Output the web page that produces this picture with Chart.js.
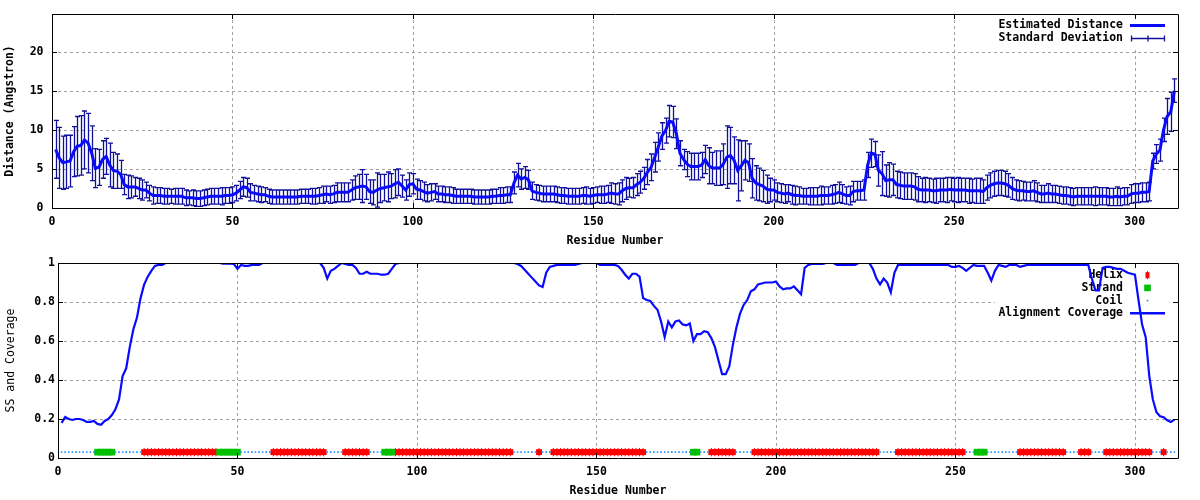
<!DOCTYPE html>
<html><head><meta charset="utf-8">
<script src="https://cdn.jsdelivr.net/npm/chart.js@4/dist/chart.umd.min.js"></script>
<style>
html,body{margin:0;padding:0;background:#fff;}
#wrap{position:relative;width:1200px;height:500px;overflow:hidden;}
canvas{position:absolute;left:0;}
</style></head><body>
<div id="wrap">
<canvas id="c1" width="1200" height="250" style="top:0"></canvas>
<canvas id="c2" width="1200" height="250" style="top:250px"></canvas>
</div>
<script>
// ---------------- DATA ----------------
// Estimated distance (Angstrom) per residue 1..311
const distance = [
7.5,6.4,5.8,5.9,6.0,7.2,7.9,8.0,8.7,8.3,
7.0,5.1,5.2,6.2,6.6,5.5,4.8,4.7,4.3,3.0,
2.7,2.7,2.7,2.5,2.3,2.3,1.9,1.6,1.6,1.6,
1.5,1.5,1.5,1.5,1.5,1.5,1.3,1.3,1.3,1.2,
1.2,1.3,1.4,1.5,1.5,1.5,1.5,1.6,1.6,1.7,
1.9,2.3,2.7,2.6,2.0,1.9,1.8,1.7,1.7,1.5,
1.4,1.4,1.4,1.4,1.4,1.4,1.4,1.4,1.5,1.5,
1.5,1.5,1.5,1.6,1.7,1.8,1.7,1.8,2.0,2.0,
2.0,2.0,2.3,2.6,2.7,2.8,2.7,2.1,2.0,2.3,
2.5,2.6,2.7,2.8,3.1,3.3,2.8,2.3,3.0,3.1,
2.4,2.3,2.1,1.9,2.0,2.1,1.8,1.8,1.7,1.7,
1.6,1.5,1.5,1.5,1.5,1.5,1.4,1.4,1.4,1.4,
1.4,1.5,1.5,1.6,1.6,1.7,1.7,3.2,4.2,3.7,
3.9,3.6,2.2,2.0,1.9,1.8,1.8,1.8,1.8,1.7,
1.6,1.6,1.5,1.5,1.5,1.5,1.6,1.6,1.5,1.6,
1.7,1.7,1.7,1.8,1.9,1.8,1.8,2.2,2.5,2.6,
2.6,3.0,3.3,3.8,4.6,5.2,6.5,7.8,9.2,9.9,
11.1,11.0,9.5,7.0,6.2,5.6,5.3,5.3,5.3,5.5,
6.2,5.4,5.1,5.1,5.1,5.6,6.5,6.7,6.1,4.8,
5.4,6.1,5.8,3.8,3.2,3.0,2.8,2.4,2.3,2.3,
2.0,1.9,1.8,1.9,1.7,1.6,1.6,1.5,1.5,1.5,
1.5,1.5,1.6,1.6,1.6,1.7,1.8,2.0,1.8,1.6,
1.6,2.1,2.2,2.2,2.3,5.5,7.0,6.9,4.8,4.4,
3.5,3.6,3.6,3.0,2.9,2.8,2.8,2.8,2.7,2.4,
2.3,2.3,2.3,2.2,2.2,2.3,2.3,2.3,2.4,2.3,
2.3,2.3,2.3,2.2,2.2,2.2,2.2,2.1,2.6,2.9,
3.1,3.2,3.2,3.1,2.9,2.5,2.3,2.2,2.2,2.1,
2.1,2.2,2.0,1.8,1.8,1.9,1.8,1.8,1.7,1.6,
1.6,1.5,1.4,1.5,1.5,1.5,1.5,1.5,1.5,1.5,
1.5,1.5,1.4,1.4,1.5,1.4,1.5,1.5,1.8,1.9,
1.9,2.0,2.0,2.1,6.0,6.9,7.4,10.0,11.7,12.3,15.0
];
// Standard deviation per residue
const stdDev = [
3.7,3.9,3.4,3.4,3.3,3.2,3.8,3.8,3.7,3.8,
3.5,2.5,2.3,2.4,2.3,2.8,2.3,2.2,1.8,1.3,
1.5,1.4,1.2,1.3,1.3,1.0,1.0,1.1,1.0,1.0,
1.0,1.0,0.9,1.0,1.0,1.0,1.0,0.9,1.0,1.0,
1.0,1.0,1.0,1.0,1.0,1.0,1.1,1.0,1.0,1.0,
1.0,1.1,1.2,1.2,1.1,1.0,1.0,1.0,0.9,0.9,
0.9,0.9,0.9,0.9,0.9,0.9,0.9,0.9,0.9,0.9,
0.9,1.0,1.0,1.0,1.1,1.0,1.1,1.1,1.2,1.2,
1.2,1.2,1.3,1.5,1.6,2.1,1.6,1.5,1.6,2.2,
1.8,1.7,1.9,1.6,1.8,1.7,1.4,1.3,1.5,1.3,
1.3,1.2,1.2,1.1,1.1,1.0,1.0,1.0,1.0,1.0,
1.0,0.9,0.9,0.9,0.9,0.9,0.9,0.9,0.9,0.9,
0.9,0.9,0.9,1.0,1.0,1.0,1.0,1.4,1.5,1.3,
1.4,1.2,1.1,1.0,1.0,1.0,1.0,1.0,1.0,1.0,
1.0,1.0,1.0,1.0,1.0,1.0,1.0,1.1,1.0,1.0,
1.0,1.1,1.1,1.1,1.3,1.3,1.4,1.4,1.4,1.2,
1.3,1.4,1.4,1.4,1.6,1.7,1.9,1.8,1.7,1.6,
2.0,2.0,1.9,1.6,1.3,1.6,1.7,1.7,1.7,1.6,
1.8,2.3,2.0,2.2,2.2,2.6,4.0,3.6,3.0,3.9,
3.2,2.5,2.4,2.5,2.2,2.1,2.0,1.8,1.5,1.3,
1.2,1.2,1.2,1.1,1.2,1.2,1.1,1.0,1.0,1.1,
1.1,1.1,1.2,1.1,1.1,1.2,1.2,1.3,1.2,1.1,
1.2,1.3,1.2,1.2,1.3,1.6,1.8,1.6,2.0,2.8,
2.0,2.2,2.0,1.7,1.7,1.7,1.7,1.7,1.7,1.6,
1.5,1.6,1.5,1.5,1.6,1.5,1.5,1.6,1.5,1.5,
1.6,1.5,1.5,1.6,1.5,1.6,1.6,1.5,1.6,1.6,
1.6,1.6,1.6,1.6,1.5,1.4,1.3,1.3,1.2,1.2,
1.2,1.3,1.2,1.1,1.1,1.2,1.1,1.1,1.1,1.1,
1.1,1.1,1.1,1.1,1.1,1.1,1.1,1.1,1.2,1.1,
1.1,1.1,1.1,1.1,1.2,1.1,1.1,1.1,1.2,1.2,
1.2,1.2,1.2,1.2,1.0,1.2,1.4,1.5,2.3,2.5,1.5
];
// Alignment coverage per residue
const coverage = [
0.18,0.21,0.20,0.195,0.20,0.20,0.195,0.185,0.185,0.19,
0.175,0.17,0.19,0.20,0.22,0.25,0.30,0.42,0.46,0.57,
0.66,0.72,0.82,0.89,0.93,0.96,0.985,0.99,0.99,1.0,
1.0,1.0,1.0,1.0,1.0,1.0,1.0,1.0,1.0,1.0,
1.0,1.0,1.0,1.0,1.0,0.997,0.997,0.997,0.995,0.97,
0.99,0.985,0.985,0.99,0.99,0.99,1.0,1.0,1.0,1.0,
1.0,1.0,1.0,1.0,1.0,1.0,1.0,1.0,1.0,1.0,
1.0,1.0,1.0,0.975,0.92,0.96,0.97,0.985,1.0,0.995,
0.99,0.99,0.975,0.945,0.945,0.955,0.945,0.945,0.945,0.94,
0.94,0.945,0.97,0.995,1.0,1.0,1.0,1.0,1.0,1.0,
1.0,1.0,1.0,1.0,1.0,1.0,1.0,1.0,1.0,1.0,
1.0,1.0,1.0,1.0,1.0,1.0,1.0,1.0,1.0,1.0,
1.0,1.0,1.0,1.0,1.0,1.0,1.0,0.995,0.985,0.965,
0.945,0.925,0.905,0.885,0.877,0.95,0.98,0.985,0.99,0.99,
0.99,0.99,0.99,0.99,0.995,1.0,1.0,1.0,1.0,1.0,
0.99,0.99,0.99,0.99,0.99,0.985,0.965,0.94,0.92,0.945,
0.945,0.93,0.82,0.81,0.805,0.78,0.76,0.70,0.62,0.70,
0.67,0.70,0.705,0.685,0.68,0.69,0.60,0.635,0.635,0.65,
0.645,0.615,0.57,0.50,0.43,0.43,0.47,0.58,0.67,0.74,
0.785,0.81,0.855,0.865,0.89,0.895,0.90,0.90,0.90,0.905,
0.88,0.865,0.87,0.87,0.88,0.86,0.84,0.975,0.99,0.995,
0.995,0.995,0.995,1.0,1.0,1.0,0.99,0.99,0.99,0.99,
0.99,0.99,1.0,1.0,1.0,1.0,0.97,0.92,0.89,0.92,
0.90,0.85,0.95,0.99,0.99,0.99,0.99,0.99,0.99,0.99,
0.99,0.99,0.99,0.99,0.99,0.99,0.99,0.99,0.98,0.98,
0.985,0.975,0.96,0.975,0.99,0.985,0.985,0.985,0.95,0.91,
0.96,0.99,0.985,0.98,0.99,0.99,0.99,0.98,0.985,0.99,
0.99,0.99,0.99,0.99,0.99,0.99,0.99,0.99,0.99,0.99,
0.99,0.99,0.99,0.99,0.99,0.99,0.99,0.92,0.86,0.86,
0.975,0.98,0.98,0.975,0.97,0.97,0.96,0.95,0.945,0.94,
0.81,0.685,0.62,0.42,0.30,0.235,0.214,0.209,0.193,0.185,0.197
];
// Secondary structure runs: [first residue, last residue, type]; everything else is coil
const ssSegments = [
[11,15,'E'],[24,44,'H'],[45,50,'E'],[60,74,'H'],[80,86,'H'],[91,93,'E'],
[94,126,'H'],[134,134,'H'],[138,163,'H'],[177,178,'E'],[182,188,'H'],
[194,228,'H'],[234,252,'H'],[256,258,'E'],[268,280,'H'],[285,287,'H'],
[292,304,'H'],[308,308,'H']
];
const ssLevel = 0.03;
const residues = distance.map((_, i) => i + 1);
const xTicks = [0, 50, 100, 150, 200, 250, 300];
const yTicksTop = [0, 5, 10, 15, 20];
const yTicksBottom = [0, 0.2, 0.4, 0.6, 0.8, 1];

// ---------------- HELPERS ----------------
const FAM = "'DejaVu Sans Mono','Liberation Mono',monospace";
Chart.defaults.font.family = FAM;
const BOLD = "bold 11.5px " + FAM;
function ssAt(r) { for (const [a, b, t] of ssSegments) if (r >= a && r <= b) return t; return 'C'; }
const ssPoints = t => residues.map(r => ({ x: r, y: ssAt(r) === t ? ssLevel : null }));
const fmt = v => String(Math.round(v * 10) / 10);

function makeFrame(cfg) {
  return {
    id: 'gpframe',
    beforeDatasetsDraw(chart) {
      const { ctx, chartArea: a, scales: { x, y } } = chart;
      ctx.save();
      // dotted grid
      ctx.strokeStyle = '#a0a0a0'; ctx.lineWidth = 1; ctx.setLineDash([3, 3]);
      ctx.beginPath();
      xTicks.forEach(v => { if (v > x.min && v < x.max) { const p = Math.round(x.getPixelForValue(v)) + 0.5; ctx.moveTo(p, a.top); ctx.lineTo(p, a.bottom); } });
      cfg.yTicks.forEach(v => { if (v > y.min && v < y.max) { const p = Math.round(y.getPixelForValue(v)) + 0.5; ctx.moveTo(a.left, p); ctx.lineTo(a.right, p); } });
      ctx.stroke();
      ctx.setLineDash([]);
      // key (cleared box, then entries)
      ctx.fillStyle = '#fff';
      ctx.fillRect(cfg.keyBox[0], cfg.keyBox[1], cfg.keyBox[2], cfg.keyBox[3]);
      ctx.font = BOLD; ctx.textAlign = 'right'; ctx.textBaseline = 'middle';
      cfg.key.forEach(k => {
        ctx.fillStyle = '#000';
        ctx.fillText(k.label, 1123, k.y);
        const sx = 1147.5;
        if (k.kind === 'line') {
          ctx.strokeStyle = k.color; ctx.lineWidth = k.width;
          ctx.beginPath(); ctx.moveTo(1130, k.y); ctx.lineTo(1165, k.y); ctx.stroke();
        } else if (k.kind === 'err') {
          ctx.strokeStyle = k.color; ctx.lineWidth = 1.3;
          ctx.beginPath();
          ctx.moveTo(1131.5, k.y); ctx.lineTo(1164.5, k.y);
          [1131.5, 1148, 1164.5].forEach(px => { ctx.moveTo(px, k.y - 3); ctx.lineTo(px, k.y + 3); });
          ctx.stroke();
        } else if (k.kind === 'helix') {
          ctx.fillStyle = k.color; ctx.fillRect(sx - 2, k.y - 3, 4, 6);
          ctx.fillRect(sx - 0.5, k.y - 4, 1, 8);
        } else if (k.kind === 'strand') {
          ctx.fillStyle = k.color; ctx.fillRect(sx - 3.3, k.y - 3.3, 6.6, 6.6);
        } else if (k.kind === 'coil') {
          ctx.fillStyle = k.color; ctx.fillRect(sx - 0.8, k.y - 0.8, 1.6, 1.6);
        }
      });
      // error bars (drawn under the line)
      if (cfg.errors) {
        ctx.beginPath(); ctx.rect(a.left, a.top, a.right - a.left, a.bottom - a.top); ctx.clip();
        ctx.strokeStyle = cfg.errors.color; ctx.lineWidth = 1.3;
        ctx.beginPath();
        residues.forEach((r, i) => {
          const px = Math.round(x.getPixelForValue(r)) + 0.5;
          const t = y.getPixelForValue(distance[i] + stdDev[i]);
          const b = y.getPixelForValue(distance[i] - stdDev[i]);
          ctx.moveTo(px, t); ctx.lineTo(px, b);
          ctx.moveTo(px - 2.5, t); ctx.lineTo(px + 2.5, t);
          ctx.moveTo(px - 2.5, b); ctx.lineTo(px + 2.5, b);
        });
        ctx.stroke();
      }
      ctx.restore();
    },
    afterDatasetsDraw(chart) {
      const { ctx, chartArea: a, scales: { x, y } } = chart;
      ctx.save();
      ctx.strokeStyle = '#000'; ctx.lineWidth = 1;
      ctx.beginPath();
      ctx.rect(a.left + 0.5, a.top + 0.5, a.right - a.left, a.bottom - a.top);
      xTicks.forEach(v => { const p = Math.round(x.getPixelForValue(v)) + 0.5; ctx.moveTo(p, a.bottom); ctx.lineTo(p, a.bottom - 5); ctx.moveTo(p, a.top); ctx.lineTo(p, a.top + 5); });
      cfg.yTicks.forEach(v => { const p = Math.round(y.getPixelForValue(v)) + 0.5; ctx.moveTo(a.left, p); ctx.lineTo(a.left + 5, p); ctx.moveTo(a.right, p); ctx.lineTo(a.right - 5, p); });
      ctx.stroke();
      ctx.restore();
    }
  };
}

function xScale(titleText) {
  return {
    type: 'linear', min: 0, max: 312,
    afterBuildTicks: s => { s.ticks = xTicks.map(v => ({ value: v })); },
    afterFit: s => { s.height = 42; s.paddingLeft = 0; s.paddingRight = 0; },
    grid: { display: false, drawTicks: false }, border: { display: false },
    ticks: { padding: 7, color: '#000', font: { size: 11.5, weight: 'bold' }, maxRotation: 0, autoSkip: false, callback: fmt },
    title: { display: true, text: titleText, color: '#000', font: { size: 11.5, weight: 'bold' }, padding: { top: 0, bottom: 2.4 } }
  };
}
function yScale(min, max, ticks, width, pad, titleText, titleWeight, titlePad) {
  return {
    type: 'linear', min: min, max: max,
    afterBuildTicks: s => { s.ticks = ticks.map(v => ({ value: v })); },
    afterFit: s => { s.width = width; s.paddingTop = 0; s.paddingBottom = 0; },
    grid: { display: false, drawTicks: false }, border: { display: false },
    ticks: { padding: pad, color: '#000', font: { size: 11.5, weight: 'bold' }, autoSkip: false, callback: fmt },
    title: { display: true, text: titleText, color: '#000', font: { size: 11.5, weight: titleWeight }, padding: { top: titlePad, bottom: 0 } }
  };
}

// ---------------- TOP CHART ----------------
new Chart(document.getElementById('c1'), {
  type: 'line',
  data: {
    datasets: [{
      label: 'Estimated Distance',
      data: residues.map((r, i) => ({ x: r, y: distance[i] })),
      borderColor: '#0a0aff', borderWidth: 3, pointRadius: 0, tension: 0, fill: false
    }]
  },
  options: {
    responsive: false, animation: false, devicePixelRatio: 1,
    layout: { padding: { left: 0, top: 14, right: 22, bottom: 0 } },
    plugins: { legend: { display: false }, tooltip: { enabled: false } },
    scales: {
      x: xScale('Residue Number'),
      y: yScale(0, 24.8, yTicksTop, 52, 8.5, 'Distance (Angstron)', 'bold', 3)
    }
  },
  plugins: [makeFrame({
    yTicks: yTicksTop,
    keyBox: [995, 17, 175, 30],
    key: [
      { label: 'Estimated Distance', y: 25.5, kind: 'line', color: '#0a0aff', width: 3 },
      { label: 'Standard Deviation', y: 38.5, kind: 'err', color: '#10109a' }
    ],
    errors: { color: '#10109a' }
  })]
});

// ---------------- BOTTOM CHART ----------------
new Chart(document.getElementById('c2'), {
  type: 'line',
  data: {
    datasets: [
      { label: 'Alignment Coverage', data: residues.map((r, i) => ({ x: r, y: coverage[i] })),
        borderColor: '#0a0aff', borderWidth: 2.2, pointRadius: 0, tension: 0, fill: false },
      { label: 'Coil', data: ssPoints('C'), showLine: false, pointStyle: 'rect', pointRadius: 1.1,
        pointBorderWidth: 0, pointBackgroundColor: '#1a8cff', borderColor: '#1a8cff', backgroundColor: '#1a8cff' },
      { label: 'Strand', data: ssPoints('E'), showLine: false, pointStyle: 'rect', pointRadius: 4.7,
        pointBorderWidth: 0, pointBackgroundColor: '#00c000', borderColor: '#00c000', backgroundColor: '#00c000' },
      { label: 'Helix', data: ssPoints('H'), showLine: false, pointStyle: 'rect', pointRadius: 4.2,
        pointBorderWidth: 0, pointBackgroundColor: '#ff0000', borderColor: '#ff0000', backgroundColor: '#ff0000' },
      { label: 'Helix ticks', data: ssPoints('H'), showLine: false, pointStyle: 'line', pointRotation: 90, pointRadius: 4.2,
        pointBorderWidth: 1, pointBorderColor: '#ff0000', borderColor: '#ff0000' }
    ]
  },
  options: {
    responsive: false, animation: false, devicePixelRatio: 1,
    layout: { padding: { left: 0, top: 13, right: 22, bottom: 0 } },
    plugins: { legend: { display: false }, tooltip: { enabled: false } },
    scales: {
      x: xScale('Residue Number'),
      y: yScale(0, 1, yTicksBottom, 58, 3, 'SS and Coverage', 'normal', 4)
    }
  },
  plugins: [makeFrame({
    yTicks: yTicksBottom,
    keyBox: [995, 17, 178, 53],
    key: [
      { label: 'Helix', y: 25.2, kind: 'helix', color: '#ff0000' },
      { label: 'Strand', y: 37.9, kind: 'strand', color: '#00c000' },
      { label: 'Coil', y: 50.6, kind: 'coil', color: '#1a8cff' },
      { label: 'Alignment Coverage', y: 63.2, kind: 'line', color: '#0a0aff', width: 2.4 }
    ]
  })]
});
</script>
</body></html>
